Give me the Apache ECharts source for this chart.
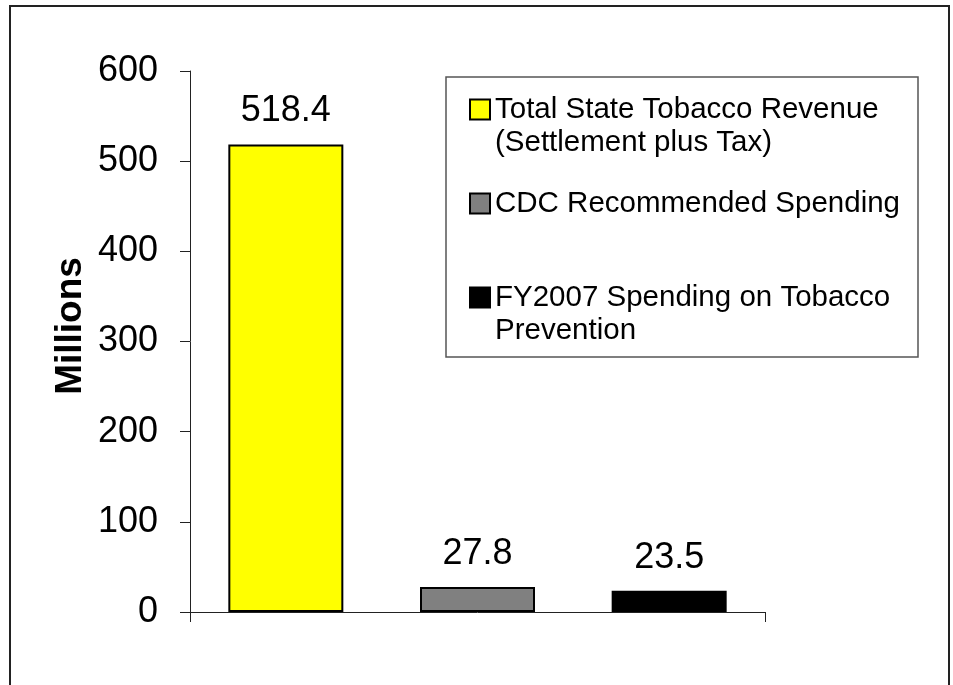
<!DOCTYPE html>
<html>
<head>
<meta charset="utf-8">
<script src="https://cdn.jsdelivr.net/npm/echarts@6/dist/echarts.min.js"></script>
<style>
html,body{margin:0;padding:0;background:#fff;}
#chart{width:953px;height:685px;}
</style>
</head>
<body>
<div id="chart"></div>
<script>
const categories = ['Total State Tobacco Revenue', 'CDC Recommended Spending', 'FY2007 Spending'];
const seriesNames = ['Total State Tobacco Revenue (Settlement plus Tax)', 'CDC Recommended Spending', 'FY2007 Spending on Tobacco Prevention'];
const legendLines = [
  ['Total State Tobacco Revenue', '(Settlement plus Tax)'],
  ['CDC Recommended Spending', ' '],
  ['FY2007 Spending on Tobacco', 'Prevention']
];
const revenueValues = [518.4, '-', '-'];
const cdcValues = ['-', 27.8, '-'];
const fy2007Values = ['-', '-', 23.5];
const seriesColors = ['#FFFF00', '#808080', '#000000'];
const yTicks = [0, 100, 200, 300, 400, 500, 600];
const yAxisTitle = 'Millions';

const font = '"Liberation Sans", Arial, sans-serif';
const chart = echarts.init(document.getElementById('chart'), null, {renderer: 'canvas'});
const valueSets = [revenueValues, cdcValues, fy2007Values];

const option = {
  backgroundColor: '#ffffff',
  animation: false,
  textStyle: {fontFamily: font},
  grid: {left: 190, right: 188, top: 71, bottom: 73, containLabel: false},
  xAxis: [
    {
      type: 'category',
      data: categories,
      axisLine: {show: true, lineStyle: {color: '#222', width: 1}},
      axisTick: {show: false},
      axisLabel: {show: false},
      splitLine: {show: false}
    },
    {
      type: 'value',
      min: 0, max: 1, interval: 1,
      position: 'bottom',
      axisLine: {show: false},
      axisTick: {show: true, inside: false, length: 10, lineStyle: {color: '#222', width: 1}},
      axisLabel: {show: false},
      splitLine: {show: false}
    }
  ],
  yAxis: {
    type: 'value',
    min: yTicks[0],
    max: yTicks[yTicks.length - 1],
    interval: yTicks[1] - yTicks[0],
    axisLine: {show: true, lineStyle: {color: '#222', width: 1}},
    axisTick: {show: true, inside: false, length: 10, lineStyle: {color: '#222', width: 1}},
    axisLabel: {show: true, margin: 32, fontSize: 36, color: '#000', fontFamily: font},
    splitLine: {show: false}
  },
  legend: {
    show: true,
    orient: 'vertical',
    left: 469,
    top: 60,
    padding: 0,
    itemGap: -5,
    itemWidth: 20,
    itemHeight: 20,
    icon: 'rect',
    data: seriesNames,
    formatter: function (name) {
      const lines = legendLines[seriesNames.indexOf(name)];
      return ' \n' + lines.join('\n');
    },
    textStyle: {fontSize: 29.5, color: '#000', fontFamily: font, lineHeight: 33},
    selectedMode: false
  },
  graphic: [
    {
      type: 'rect',
      shape: {x: 10, y: 6, width: 939, height: 700},
      style: {fill: 'none', stroke: '#222', lineWidth: 2},
      silent: true
    },
    {
      type: 'rect',
      shape: {x: 446, y: 77, width: 472, height: 280},
      style: {fill: 'none', stroke: '#555', lineWidth: 1.5},
      silent: true,
      z: -1
    },
    {
      type: 'text',
      x: 71, y: 326,
      rotation: Math.PI / 2,
      style: {text: yAxisTitle, font: 'bold 37px ' + font, fill: '#000', align: 'center', verticalAlign: 'middle'},
      silent: true
    }
  ],
  series: valueSets.map(function (vals, i) {
    return {
      name: seriesNames[i],
      type: 'bar',
      stack: 'all',
      xAxisIndex: 0,
      barWidth: '60%',
      data: vals,
      itemStyle: {color: seriesColors[i], borderColor: '#000', borderWidth: 2},
      label: {show: true, position: 'top', distance: 15, fontSize: 36, color: '#000', fontFamily: font},
      emphasis: {disabled: true}
    };
  })
};
chart.setOption(option);
</script>
</body>
</html>
